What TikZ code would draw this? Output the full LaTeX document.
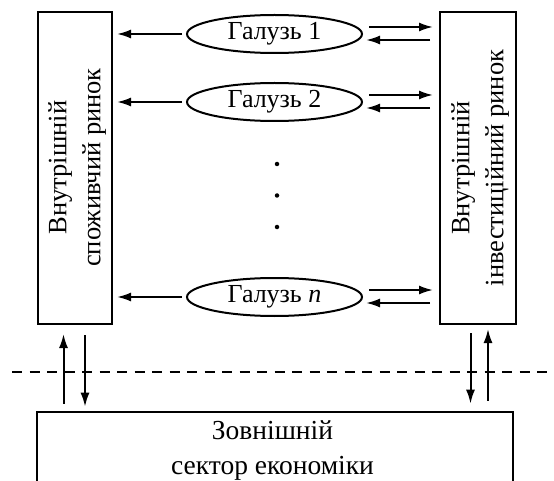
\documentclass[tikz,border=0pt]{standalone}
\usepackage{fontspec}
\setmainfont{Liberation Serif}
\usetikzlibrary{arrows.meta,calc,shapes.geometric}
\newcommand{\fsg}{\fontsize{26}{34}\selectfont}
\newcommand{\fsv}{\fontsize{26.5}{34}\selectfont}
\newcommand{\fsb}{\fontsize{27.5}{35}\selectfont}
\begin{document}
\begin{tikzpicture}[x=1pt,y=-1pt,
  box/.style={draw,line width=2pt,inner sep=0pt},
  gal/.style={draw,ellipse,line width=2pt,minimum width=175pt,minimum height=38pt,inner sep=0pt,font=\fsg},
  arr/.style={line width=2pt,-{Latex[length=14pt,width=9pt]}},
  lbl/.style={align=center,inner sep=0pt},
  dot/.style={circle,fill,inner sep=0pt,minimum size=4.5pt},
  sep/.style={line width=1.7pt,dash pattern=on 10pt off 7.5pt}]
\useasboundingbox (0,0) rectangle (554,481);
\clip (0,0) rectangle (554,481);

\node[box,minimum width=74pt,minimum height=312pt] (L) at (75,168) {};
\node[lbl,rotate=90,font=\fsv] (Lt) at (77,167.5) {Внутрішній\\споживчий ринок};
\node[box,minimum width=76pt,minimum height=312pt] (R) at (478,168) {};
\node[lbl,rotate=90,font=\fsv] (Rt) at (480,168) {Внутрішній\\інвестиційний ринок};

\node[gal] (g1) at (274.5,34) {Галузь 1};
\node[gal] (g2) at (274.5,102) {Галузь 2};
\node[gal] (gn) at (274.5,297) {Галузь \textit{n}};

\node[dot] (d1) at (277,164) {};
\node[dot] (d2) at (277,195.5) {};
\node[dot] (d3) at (277,227) {};

\node[box,minimum width=475.5pt,minimum height=80pt] (B) at (275,451.7) {};
\node[lbl,font=\fsb] (Bt) at (272.5,450.5) {Зовнішній\\сектор економіки};

\foreach \g in {g1,g2,gn}{
  \draw[arr,shorten <=4pt] (\g.west) -- ($(L.east|-\g.west)+(4pt,0)$);
  \draw[arr] ($(\g.east)+(6pt,7pt)$) -- ($(R.west|-\g.east)+(-6pt,7pt)$);
  \draw[arr] ($(R.west|-\g.east)+(-9pt,-6pt)$) -- ($(\g.east)+(3pt,-6pt)$);
}

\coordinate (xa) at (63.5,0);
\coordinate (xb) at (85,0);
\coordinate (xc) at (470.5,0);
\coordinate (xd) at (488,0);
\draw[arr,shorten <=7pt,shorten >=9pt] (B.north-|xa) -- (L.south-|xa);
\draw[arr,shorten <=10pt,shorten >=4pt] (L.south-|xb) -- (B.north-|xb);
\draw[arr,shorten <=8pt,shorten >=7pt] (R.south-|xc) -- (B.north-|xc);
\draw[arr,shorten <=10pt,shorten >=4pt] (B.north-|xd) -- (R.south-|xd);

\coordinate (s0) at (12,372);
\coordinate (s1) at (554,372);
\draw[sep] (s0) -- (s1);
\end{tikzpicture}
\end{document}
